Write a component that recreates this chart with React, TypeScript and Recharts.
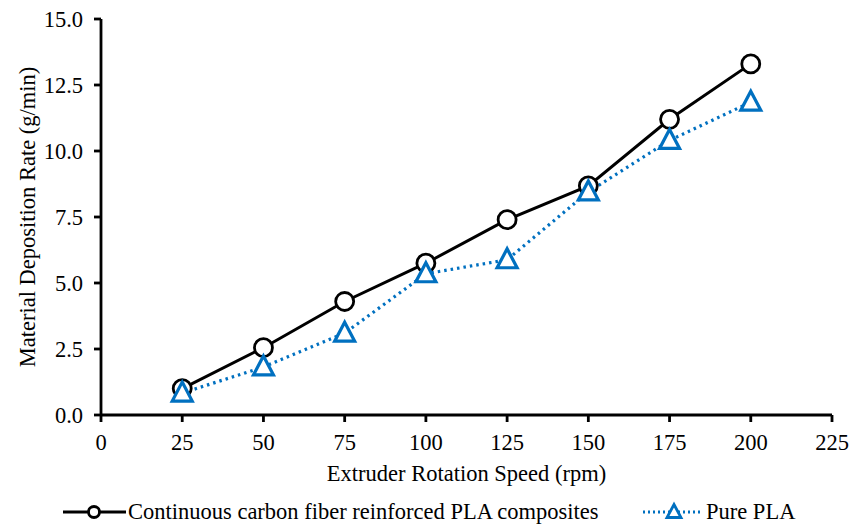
import { LineChart, Line, XAxis, YAxis, Label } from "recharts"

const speeds = [25, 50, 75, 100, 125, 150, 175, 200]
const compositeRate = [1.0, 2.55, 4.3, 5.75, 7.4, 8.68, 11.2, 13.3]
const plaRate = [0.83, 1.82, 3.1, 5.35, 5.88, 8.45, 10.4, 11.85]
const xTicks = [0, 25, 50, 75, 100, 125, 150, 175, 200, 225]
const yTicks = [0, 2.5, 5, 7.5, 10, 12.5, 15]

const BLUE = "#0070C0"
const FONT = "'Liberation Serif', 'Times New Roman', serif"
const FS = 22.5

const data = speeds.map((speed, i) => ({
  speed,
  composite: compositeRate[i],
  pla: plaRate[i],
}))

const CircleDot = (props: any) => {
  const { cx, cy } = props
  if (cx == null || cy == null) return null
  return <circle cx={cx} cy={cy} r={9} fill="#fff" stroke="#000" strokeWidth={2.8} />
}

const TriangleDot = (props: any) => {
  const { cx, cy } = props
  if (cx == null || cy == null) return null
  const pts = `${cx},${cy - 11} ${cx + 10},${cy + 8} ${cx - 10},${cy + 8}`
  return <polygon points={pts} fill="#fff" stroke={BLUE} strokeWidth={3.2} strokeLinejoin="miter" />
}

function ChartLegend() {
  const text = { position: "absolute" as const, top: 498, fontFamily: FONT, fontSize: FS, color: "#000", lineHeight: "27px", whiteSpace: "nowrap" as const }
  return (
    <>
      <svg style={{ position: "absolute", left: 60, top: 500 }} width={70} height={24}>
        <line x1={3} y1={12} x2={66} y2={12} stroke="#000" strokeWidth={3} />
        <circle cx={34} cy={12} r={5.5} fill="#fff" stroke="#000" strokeWidth={2.8} />
      </svg>
      <div style={{ ...text, left: 128 }}>Continuous carbon fiber reinforced PLA composites</div>
      <svg style={{ position: "absolute", left: 640, top: 500 }} width={64} height={24}>
        <line x1={3} y1={12} x2={60} y2={12} stroke={BLUE} strokeWidth={2.8} strokeDasharray="2 3" />
        <polygon points="34,4.5 41,17.5 27,17.5" fill="#fff" stroke={BLUE} strokeWidth={2.8} />
      </svg>
      <div style={{ ...text, left: 706 }}>Pure PLA</div>
    </>
  )
}

export default function App() {
  const tickStyle = { fontFamily: FONT, fontSize: FS, fill: "#000" }
  return (
    <div style={{ position: "absolute", left: 0, top: 0, width: 860, height: 524, background: "#fff" }}>
      <LineChart width={860} height={524} data={data} margin={{ top: 19, right: 28, left: 0, bottom: 49 }}>
        <XAxis
          dataKey="speed"
          type="number"
          domain={[0, 225]}
          ticks={xTicks}
          interval={0}
          height={60}
          tickSize={7}
          tickMargin={12}
          tick={tickStyle}
          stroke="#000"
          strokeWidth={2.8}
          tickLine={{ stroke: "#000", strokeWidth: 2.8 }}
        >
          <Label
            value="Extruder Rotation Speed (rpm)"
            position="insideTop"
            offset={50}
            style={{ fontFamily: FONT, fontSize: FS, fill: "#000" }}
          />
        </XAxis>
        <YAxis
          type="number"
          domain={[0, 15]}
          ticks={yTicks}
          interval={0}
          width={101}
          tickSize={7}
          tickMargin={11}
          tick={tickStyle}
          tickFormatter={(v: number) => v.toFixed(1)}
          stroke="#000"
          strokeWidth={2.8}
          tickLine={{ stroke: "#000", strokeWidth: 2.8 }}
        >
          <Label
            value="Material Deposition Rate (g/min)"
            angle={-90}
            position="insideLeft"
            offset={27}
            style={{ fontFamily: FONT, fontSize: FS, fill: "#000", textAnchor: "middle" }}
          />
        </YAxis>
        <Line
          dataKey="composite"
          stroke="#000"
          strokeWidth={3}
          dot={<CircleDot />}
          activeDot={false}
          isAnimationActive={false}
        />
        <Line
          dataKey="pla"
          stroke={BLUE}
          strokeWidth={3.2}
          strokeDasharray="2.5 4"
          dot={<TriangleDot />}
          activeDot={false}
          isAnimationActive={false}
        />
      </LineChart>
      <ChartLegend />
    </div>
  )
}
